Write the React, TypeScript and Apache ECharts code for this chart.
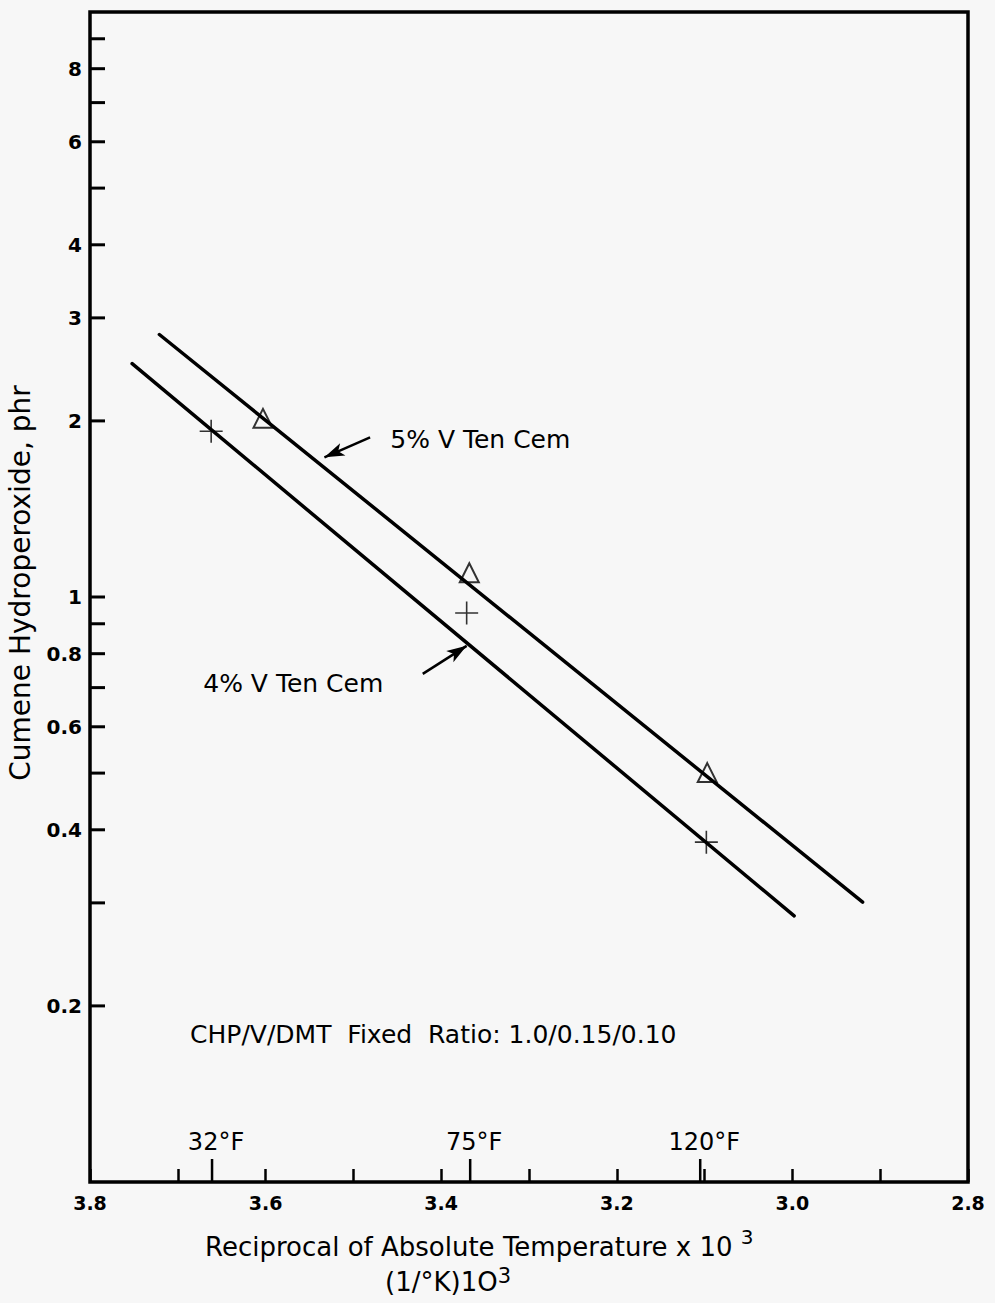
import React, { useEffect, useRef } from "react";
import * as echarts from "echarts";

// ---- Data ----
const xMin = 2.8;
const xMax = 3.8;
const yMin = 0.1;
const yMax = 10;

const yTickValues = [0.2, 0.3, 0.4, 0.5, 0.6, 0.7, 0.8, 0.9, 1, 2, 3, 4, 5, 6, 7, 8, 9];
const yTickLabels = ["0.2", "", "0.4", "", "0.6", "", "0.8", "", "1", "2", "3", "4", "", "6", "", "8", ""];

const tempValues = [3.661, 3.367, 3.105];
const tempLabels = ["32°F", "75°F", "120°F"];

const line5X = [3.721, 2.92];
const line5Y = [2.81, 0.301];
const line4X = [3.752, 2.998];
const line4Y = [2.505, 0.285];

const tri5X = [3.603, 3.368, 3.097];
const tri5Y = [2.02, 1.1, 0.501];
const plus4X = [3.662, 3.371, 3.098];
const plus4Y = [1.92, 0.939, 0.381];

// annotation anchors (data space)
const annotTexts = ["5% V Ten Cem", "4% V Ten Cem", "CHP/V/DMT  Fixed  Ratio: 1.0/0.15/0.10"];
const annotX = [3.458, 3.671, 3.686];
const annotY = [1.859, 0.711, 0.1786];

const arrow5 = [[3.481, 1.874], [3.533, 1.733]];
const arrow4 = [[3.421, 0.739], [3.371, 0.825]];

const FONT = '"DejaVu Sans", "Liberation Sans", Arial, sans-serif';

export default function App() {
  const ref = useRef<HTMLDivElement>(null);

  useEffect(() => {
    if (!ref.current) return;
    const chart = echarts.init(ref.current, null, { renderer: "svg" });

    const zip = (xs: number[], ys: number[]) => xs.map((x, i) => [x, ys[i]]);

    const arrowMark = (pts: number[][]) => ({
      silent: true,
      symbol: ["none", "arrow"],
      symbolSize: [10, 20],
      lineStyle: { color: "#000", width: 2.5, type: "solid" },
      label: { show: false },
      emphasis: { disabled: true },
      data: [[{ coord: pts[0] }, { coord: pts[1] }]],
    });

    const option: any = {
      animation: false,
      backgroundColor: "#f7f7f7",
      grid: {
        left: 90,
        right: 27,
        top: 12,
        bottom: 121,
        containLabel: false,
        outerBoundsMode: "none",
        show: true,
        borderColor: "#000",
        borderWidth: 3.5,
        backgroundColor: "transparent",
      },
      xAxis: {
        type: "value",
        inverse: true,
        min: xMin,
        max: xMax,
        interval: 0.1,
        axisLine: { show: false },
        splitLine: { show: false },
        axisTick: { show: true, inside: true, length: 13, lineStyle: { color: "#000", width: 2.5 } },
        axisLabel: {
          show: true,
          margin: 11,
          color: "#000",
          fontFamily: FONT,
          fontWeight: "bold",
          fontSize: 19,
          showMinLabel: true,
          showMaxLabel: true,
          formatter: (v: number) => (Math.round(v * 10) % 2 === 0 ? v.toFixed(1) : ""),
        },
      },
      yAxis: {
        type: "log",
        logBase: 10,
        min: yMin,
        max: yMax,
        axisLine: { show: false },
        splitLine: { show: false },
        axisTick: { show: false },
        axisLabel: { show: false },
        name: "Cumene Hydroperoxide, phr",
        nameLocation: "middle",
        nameGap: 56,
        nameTextStyle: { color: "#000", fontFamily: FONT, fontSize: 28, padding: [0, 0, 0, 28] },
      },
      graphic: [
        {
          type: "text",
          x: 205,
          y: 1247,
          style: {
            text: "{a|Reciprocal of Absolute Temperature x 10 }{s|3}",
            align: "left",
            verticalAlign: "middle",
            fill: "#000",
            rich: {
              a: { fontFamily: FONT, fontSize: 26, lineHeight: 40, fill: "#000" },
              s: { fontFamily: FONT, fontSize: 20, verticalAlign: "top", fill: "#000" },
            },
          },
        },
        {
          type: "text",
          x: 385,
          y: 1282,
          style: {
            text: "{a|(1/°K)1O}{s|3}",
            align: "left",
            verticalAlign: "middle",
            fill: "#000",
            rich: {
              a: { fontFamily: FONT, fontSize: 26, lineHeight: 34, fill: "#000" },
              s: { fontFamily: FONT, fontSize: 21, verticalAlign: "top", fill: "#000" },
            },
          },
        },
      ],
      series: [
        {
          name: "5% V Ten Cem line",
          type: "line",
          data: zip(line5X, line5Y),
          symbol: "none",
          lineStyle: { color: "#000", width: 3.5, cap: "round" },
          markLine: arrowMark(arrow5),
          z: 3,
        },
        {
          name: "4% V Ten Cem line",
          type: "line",
          data: zip(line4X, line4Y),
          symbol: "none",
          lineStyle: { color: "#000", width: 3.5, cap: "round" },
          markLine: arrowMark(arrow4),
          z: 3,
        },
        {
          name: "5% V Ten Cem",
          type: "scatter",
          data: zip(tri5X, tri5Y),
          symbol: "triangle",
          symbolSize: [19, 19],
          itemStyle: { color: "rgba(0,0,0,0)", borderColor: "#000", borderWidth: 2 },
          z: 4,
        },
        {
          name: "4% V Ten Cem",
          type: "scatter",
          data: zip(plus4X, plus4Y),
          symbol: "path://M0,10 L20,10 M10,0 L10,20",
          symbolSize: 23,
          itemStyle: { color: "rgba(0,0,0,0)", borderColor: "#000", borderWidth: 1.6 },
          z: 4,
        },
        {
          name: "y ticks",
          type: "custom",
          clip: false,
          silent: true,
          data: yTickValues.map((v, i) => [xMax, v, i]),
          renderItem: (params: any, api: any) => {
            const v = api.value(1);
            const i = api.value(2);
            const pt = api.coord([xMax, v]);
            const left = params.coordSys.x;
            const children: any[] = [
              {
                type: "line",
                shape: { x1: left, y1: pt[1], x2: left + 15, y2: pt[1] },
                style: { stroke: "#000", lineWidth: 3 },
              },
            ];
            const label = yTickLabels[i];
            if (label) {
              children.push({
                type: "text",
                x: left - 8,
                y: pt[1],
                style: {
                  text: label,
                  align: "right",
                  verticalAlign: "middle",
                  fill: "#000",
                  fontFamily: FONT,
                  fontWeight: "bold",
                  fontSize: 20,
                },
              });
            }
            return { type: "group", children };
          },
        },
        {
          name: "temperatures",
          type: "custom",
          clip: false,
          silent: true,
          data: tempValues.map((v, i) => [v, yMin, i]),
          renderItem: (params: any, api: any) => {
            const pt = api.coord([api.value(0), yMin]);
            const i = api.value(2);
            return {
              type: "group",
              children: [
                {
                  type: "line",
                  shape: { x1: pt[0], y1: pt[1], x2: pt[0], y2: pt[1] - 23 },
                  style: { stroke: "#000", lineWidth: 2.5 },
                },
                {
                  type: "text",
                  x: pt[0] + 4,
                  y: pt[1] - 40,
                  style: {
                    text: tempLabels[i],
                    align: "center",
                    verticalAlign: "middle",
                    fill: "#000",
                    fontFamily: FONT,
                    fontSize: 24,
                  },
                },
              ],
            };
          },
        },
        {
          name: "annotations",
          type: "custom",
          clip: false,
          silent: true,
          data: annotX.map((x, i) => [x, annotY[i], i]),
          renderItem: (params: any, api: any) => {
            const pt = api.coord([api.value(0), api.value(1)]);
            const i = api.value(2);
            return {
              type: "text",
              x: pt[0],
              y: pt[1],
              style: {
                text: annotTexts[i],
                align: "left",
                verticalAlign: "middle",
                fill: "#000",
                fontFamily: FONT,
                fontSize: 25,
              },
            };
          },
        },
      ],
    };

    chart.setOption(option);
    return () => chart.dispose();
  }, []);

  return (
    <div
      ref={ref}
      style={{ position: "fixed", left: 0, top: 0, width: 995, height: 1303 }}
    />
  );
}
